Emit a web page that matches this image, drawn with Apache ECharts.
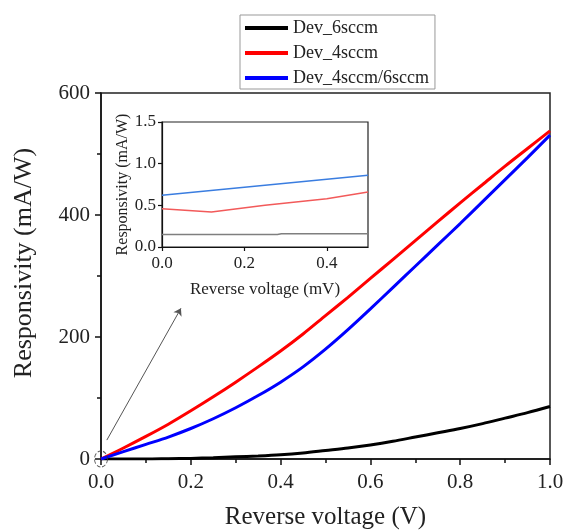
<!DOCTYPE html>
<html>
<head>
<meta charset="utf-8">
<title>Responsivity vs reverse voltage</title>
<script src="https://cdn.jsdelivr.net/npm/echarts@6/dist/echarts.min.js"></script>
<style>
  html, body { margin: 0; padding: 0; background: #ffffff; }
  #chart { width: 563px; height: 530px; }
</style>
</head>
<body>
<div id="chart"></div>
<script>
// Main panel: reverse voltage (V) and responsivity (mA/W) per device
const voltage = [0, 0.05, 0.1, 0.15, 0.2, 0.25, 0.3, 0.35, 0.4, 0.45, 0.5,
                 0.55, 0.6, 0.65, 0.7, 0.75, 0.8, 0.85, 0.9, 0.95, 1.0];
const dev6sccm = [0, 0, 0, 0.5, 1, 2, 3.5, 5, 7, 10, 14,
                  18, 23, 29, 36, 43, 50, 58, 67, 76, 86];
const dev4sccm = [0, 18, 37, 57, 79, 102, 126, 151, 177, 205, 235,
                  265, 296, 327, 358, 389, 420, 450, 480, 509, 538];
const dev4and6sccm = [0, 12, 24, 36, 50, 66, 84, 104, 126, 151, 180,
                      212, 246, 281, 316, 351, 386, 422, 458, 494, 531];

// Inset: low-bias region, reverse voltage (mV)
const insetVoltage6 = [0, 0.28, 0.29, 0.5];
const inset6sccm = [0.15, 0.15, 0.16, 0.16];
const insetVoltage4 = [0, 0.12, 0.25, 0.4, 0.5];
const inset4sccm = [0.46, 0.42, 0.50, 0.58, 0.66];
const insetVoltageMix = [0, 0.5];
const insetMix = [0.62, 0.86];

const seriesNames = ['Dev_6sccm', 'Dev_4sccm', 'Dev_4sccm/6sccm'];
const mainXTicks = { min: 0, max: 1, interval: 0.2 };
const mainYTicks = { min: 0, max: 600, interval: 200 };
const insetXTicks = { min: 0, max: 0.5, interval: 0.2 };
const insetYTicks = { min: 0, max: 1.5, interval: 0.5 };

const pairs = (xs, ys) => xs.map((x, i) => [x, ys[i]]);

const FONT = '"Liberation Serif", "Times New Roman", "DejaVu Serif", serif';
const TEXT = '#222';

function valueAxis(ticks, opts) {
  return Object.assign({
    type: 'value',
    min: ticks.min,
    max: ticks.max,
    interval: ticks.interval,
    axisLine: { show: true, onZero: false, lineStyle: { color: '#111', width: 1.5 } },
    axisTick: { show: true, inside: false, length: 6, lineStyle: { color: '#111', width: 1.5 } },
    splitLine: { show: false },
    nameLocation: 'middle',
    nameTextStyle: { fontFamily: FONT, color: TEXT }
  }, opts);
}

const chart = echarts.init(document.getElementById('chart'), null, { renderer: 'canvas' });

chart.setOption({
  animation: false,
  backgroundColor: '#ffffff',
  textStyle: { fontFamily: FONT },
  legend: {
    data: seriesNames,
    orient: 'vertical',
    left: 240,
    top: 15,
    padding: [4, 6, 2, 5],
    itemGap: 7,
    itemWidth: 43,
    itemHeight: 4,
    icon: 'rect',
    borderColor: '#999',
    borderWidth: 1,
    textStyle: { fontFamily: FONT, fontSize: 18, color: TEXT, lineHeight: 16 }
  },
  grid: [
    { left: 101, right: 13, top: 93, bottom: 71, show: true, outerBoundsMode: 'none',
      containLabel: false,
      borderColor: '#222', borderWidth: 1.5, backgroundColor: 'transparent' },
    { left: 162, top: 122, width: 206, height: 125, show: true, outerBoundsMode: 'none',
      containLabel: false,
      borderColor: '#222', borderWidth: 1.2, backgroundColor: '#ffffff' }
  ],
  xAxis: [
    valueAxis(mainXTicks, {
      gridIndex: 0,
      name: 'Reverse voltage (V)',
      nameGap: 46,
      nameTextStyle: { fontFamily: FONT, fontSize: 25, color: TEXT },
      minorTick: { show: true, splitNumber: 2, length: 4, lineStyle: { color: '#111', width: 1.5 } },
      axisLabel: { fontFamily: FONT, fontSize: 21, color: TEXT, margin: 13,
        formatter: v => v.toFixed(1) }
    }),
    valueAxis(insetXTicks, {
      gridIndex: 1,
      name: 'Reverse voltage (mV)',
      nameGap: 34,
      nameTextStyle: { fontFamily: FONT, fontSize: 17, color: TEXT },
      axisTick: { show: true, length: 4, lineStyle: { color: '#111', width: 1.2 } },
      axisLine: { show: true, onZero: false, lineStyle: { color: '#111', width: 1.2 } },
      axisLabel: { fontFamily: FONT, fontSize: 17, color: TEXT, margin: 8, showMaxLabel: false,
        formatter: v => v.toFixed(1) }
    })
  ],
  yAxis: [
    valueAxis(mainYTicks, {
      gridIndex: 0,
      name: 'Responsivity (mA/W)',
      nameGap: 64,
      nameTextStyle: { fontFamily: FONT, fontSize: 26, color: TEXT, padding: [0, 0, 0, 26] },
      minorTick: { show: true, splitNumber: 2, length: 4, lineStyle: { color: '#111', width: 1.5 } },
      axisLabel: { fontFamily: FONT, fontSize: 21, color: TEXT, margin: 11 }
    }),
    valueAxis(insetYTicks, {
      gridIndex: 1,
      name: 'Responsivity (mA/W)',
      nameGap: 23,
      nameTextStyle: { fontFamily: FONT, fontSize: 16, color: TEXT },
      axisTick: { show: true, length: 4, lineStyle: { color: '#111', width: 1.2 } },
      axisLine: { show: true, onZero: false, lineStyle: { color: '#111', width: 1.2 } },
      axisLabel: { fontFamily: FONT, fontSize: 17, color: TEXT, margin: 6,
        formatter: v => v.toFixed(1) }
    })
  ],
  series: [
    {
      name: seriesNames[0], type: 'line', xAxisIndex: 0, yAxisIndex: 0,
      data: pairs(voltage, dev6sccm), showSymbol: false, smooth: 0.3,
      lineStyle: { color: '#000000', width: 3 }, itemStyle: { color: '#000000' }, z: 3
    },
    {
      name: seriesNames[1], type: 'line', xAxisIndex: 0, yAxisIndex: 0,
      data: pairs(voltage, dev4sccm), showSymbol: false, smooth: 0.3,
      lineStyle: { color: '#ff0000', width: 3 }, itemStyle: { color: '#ff0000' }, z: 3
    },
    {
      name: seriesNames[2], type: 'line', xAxisIndex: 0, yAxisIndex: 0,
      data: pairs(voltage, dev4and6sccm), showSymbol: false, smooth: 0.3,
      lineStyle: { color: '#0000ff', width: 3 }, itemStyle: { color: '#0000ff' }, z: 3
    },
    {
      // dashed ring marking the origin, with the arrow pointing to the inset
      name: 'origin-marker', type: 'scatter', xAxisIndex: 0, yAxisIndex: 0,
      data: [[0, 0]], symbol: 'circle', symbolSize: [13, 16], clip: false, silent: true,
      itemStyle: { color: 'rgba(0,0,0,0)', borderColor: '#333', borderWidth: 1, borderType: 'dashed' },
      z: 5,
      markLine: {
        silent: true, symbol: ['none', 'arrow'], symbolSize: 7,
        lineStyle: { color: '#555', width: 1, type: 'solid' },
        label: { show: false },
        data: [[{ coord: [0.013, 31] }, { coord: [0.178, 247] }]]
      }
    },
    {
      name: 'inset-6sccm', type: 'line', xAxisIndex: 1, yAxisIndex: 1,
      data: pairs(insetVoltage6, inset6sccm), showSymbol: false,
      lineStyle: { color: '#7f7f7f', width: 1.5 }, z: 6
    },
    {
      name: 'inset-4sccm', type: 'line', xAxisIndex: 1, yAxisIndex: 1,
      data: pairs(insetVoltage4, inset4sccm), showSymbol: false,
      lineStyle: { color: '#f25a5a', width: 1.5 }, z: 6
    },
    {
      name: 'inset-4sccm-6sccm', type: 'line', xAxisIndex: 1, yAxisIndex: 1,
      data: pairs(insetVoltageMix, insetMix), showSymbol: false,
      lineStyle: { color: '#3a7de0', width: 1.5 }, z: 6
    }
  ]
});
</script>
</body>
</html>
